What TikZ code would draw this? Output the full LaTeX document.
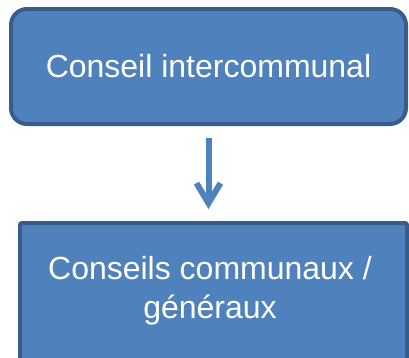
\documentclass[tikz,border=0pt]{standalone}
\usepackage{fontspec}
\setmainfont{Liberation Sans}
\usetikzlibrary{arrows.meta}
\definecolor{boxfill}{HTML}{4F81BD}
\definecolor{boxline}{HTML}{385D8A}
\tikzset{
  box/.style={draw=boxline, line width=4pt, fill=boxfill, text=white, align=center, inner sep=0pt,
    font=\fontsize{32pt}{39pt}\selectfont},
  boxtext/.style={text=white, align=center, inner sep=0pt, font=\fontsize{32pt}{39pt}\selectfont},
  flow/.style={draw=boxfill, line width=6pt, -{Straight Barb[length=20pt,width=24pt]}}
}
\begin{document}
\begin{tikzpicture}[x=1pt,y=-1pt]
\useasboundingbox (0,0) rectangle (409,357);
\clip (0,0) rectangle (409,357);
\node[box, rounded corners=16pt, minimum width=395pt, minimum height=115pt] (top) at (208.5,66.5) {Conseil intercommunal};
\node[box, rounded corners=2pt, minimum width=387pt, minimum height=160pt, anchor=north west] (bot) at (18,221) {};
\node[boxtext] (bottext) at (210,291) {Conseils communaux /\\généraux};
\draw[flow, shorten <=12pt, shorten >=12pt] (top.south -| 208.5,0) -- (bot.north -| 208.5,0);
\end{tikzpicture}
\end{document}
